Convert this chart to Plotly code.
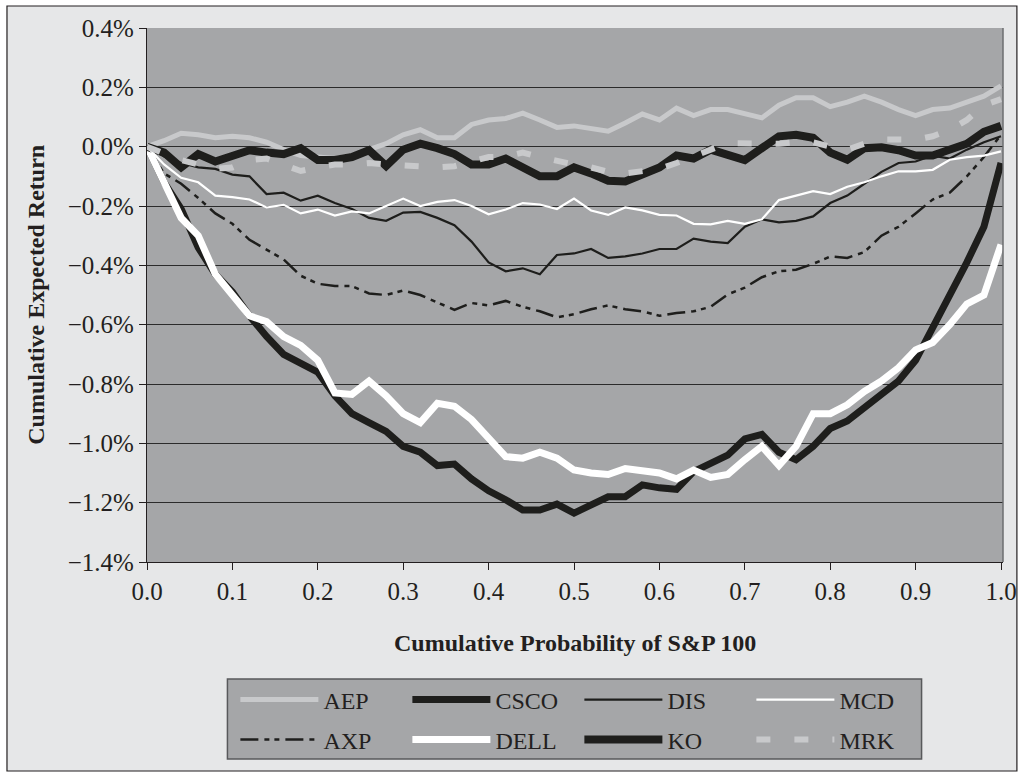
import plotly.graph_objects as go

# Cumulative probability of the S&P 100 (x) and cumulative expected return in % (y)
prob = [round(i * 0.02, 2) for i in range(51)]

aep = [0, 0.02, 0.045, 0.04, 0.03, 0.035, 0.03, 0.015, -0.01, -0.03,
       -0.035, -0.04, -0.03, -0.01, 0.01, 0.04, 0.057, 0.03, 0.03, 0.075,
       0.09, 0.095, 0.113, 0.09, 0.065, 0.07, 0.06, 0.052, 0.08, 0.11,
       0.09, 0.13, 0.105, 0.125, 0.125, 0.11, 0.097, 0.14, 0.165, 0.165,
       0.135, 0.15, 0.17, 0.15, 0.125, 0.105, 0.125, 0.13, 0.15, 0.17, 0.205]

axp = [0, -0.09, -0.125, -0.173, -0.225, -0.26, -0.314, -0.348, -0.38, -0.435,
       -0.462, -0.47, -0.47, -0.495, -0.5, -0.485, -0.5, -0.525, -0.55, -0.527,
       -0.535, -0.52, -0.54, -0.555, -0.575, -0.565, -0.548, -0.535, -0.548, -0.555,
       -0.57, -0.561, -0.555, -0.54, -0.498, -0.475, -0.44, -0.42, -0.415, -0.395,
       -0.37, -0.375, -0.355, -0.3, -0.27, -0.225, -0.178, -0.155, -0.1, -0.035, 0.04]

csco = [0, -0.12, -0.21, -0.34, -0.43, -0.49, -0.57, -0.64, -0.7, -0.73,
        -0.76, -0.84, -0.9, -0.93, -0.96, -1.01, -1.03, -1.075, -1.07, -1.12,
        -1.16, -1.19, -1.225, -1.225, -1.205, -1.235, -1.21, -1.18, -1.18, -1.14,
        -1.15, -1.155, -1.095, -1.067, -1.04, -0.985, -0.97, -1.03, -1.055, -1.01,
        -0.95, -0.925, -0.88, -0.83, -0.79, -0.72, -0.61, -0.51, -0.39, -0.27, -0.055]

dell = [0, -0.125, -0.24, -0.3, -0.43, -0.5, -0.57, -0.59, -0.64, -0.67,
        -0.72, -0.83, -0.835, -0.79, -0.84, -0.9, -0.93, -0.865, -0.875, -0.92,
        -0.98, -1.045, -1.05, -1.03, -1.05, -1.09, -1.1, -1.105, -1.085, -1.09,
        -1.1, -1.12, -1.09, -1.115, -1.105, -1.055, -1.01, -1.075, -1.01, -0.9,
        -0.9, -0.87, -0.825, -0.79, -0.745, -0.685, -0.66, -0.6, -0.53, -0.5, -0.33]

dis = [0, -0.033, -0.055, -0.07, -0.075, -0.094, -0.1, -0.16, -0.155, -0.182,
       -0.165, -0.19, -0.21, -0.24, -0.25, -0.222, -0.22, -0.24, -0.265, -0.32,
       -0.39, -0.42, -0.41, -0.43, -0.365, -0.36, -0.345, -0.375, -0.37, -0.36,
       -0.345, -0.345, -0.31, -0.32, -0.325, -0.27, -0.245, -0.255, -0.25, -0.235,
       -0.19, -0.165, -0.125, -0.085, -0.055, -0.05, -0.03, -0.04, -0.01, 0.015, 0.035]

ko = [0, -0.02, -0.07, -0.025, -0.05, -0.03, -0.012, -0.02, -0.025, -0.005,
      -0.045, -0.045, -0.035, -0.012, -0.065, -0.01, 0.01, -0.005, -0.025, -0.06,
      -0.06, -0.04, -0.068, -0.1, -0.1, -0.07, -0.09, -0.115, -0.117, -0.095,
      -0.07, -0.03, -0.04, -0.01, -0.03, -0.045, -0.005, 0.035, 0.04, 0.03,
      -0.02, -0.044, -0.005, -0.002, -0.012, -0.03, -0.03, -0.01, 0.01, 0.05, 0.07]

mcd = [0, -0.06, -0.105, -0.12, -0.165, -0.17, -0.178, -0.205, -0.196, -0.225,
       -0.212, -0.232, -0.218, -0.225, -0.2, -0.175, -0.2, -0.186, -0.18, -0.2,
       -0.228, -0.212, -0.19, -0.195, -0.21, -0.175, -0.215, -0.23, -0.205, -0.215,
       -0.23, -0.232, -0.26, -0.262, -0.25, -0.26, -0.245, -0.18, -0.165, -0.15,
       -0.16, -0.135, -0.12, -0.1, -0.083, -0.083, -0.078, -0.044, -0.035, -0.03, -0.016]

mrk = [0, -0.025, -0.045, -0.06, -0.075, -0.07, -0.045, -0.04, -0.06, -0.082,
       -0.07, -0.06, -0.06, -0.055, -0.06, -0.065, -0.066, -0.07, -0.066, -0.05,
       -0.035, -0.033, -0.02, -0.035, -0.05, -0.06, -0.07, -0.085, -0.09, -0.08,
       -0.075, -0.055, -0.035, -0.01, 0.012, 0.01, 0.007, 0.01, 0.015, 0.015,
       0, -0.01, 0.01, 0.024, 0.024, 0.024, 0.035, 0.057, 0.09, 0.14, 0.16]

x_ticks = [0.0, 0.1, 0.2, 0.3, 0.4, 0.5, 0.6, 0.7, 0.8, 0.9, 1.0]
y_ticks = [0.4, 0.2, 0.0, -0.2, -0.4, -0.6, -0.8, -1.0, -1.2, -1.4]

W, H = 1029, 777
ML, MR, MT, MB = 147, 20, 28, 215
PW, PH = W - ML - MR, H - MT - MB

def px2x(px):
    return (px - ML) / PW

def py2y(py):
    return (H - MB - py) / PH

LIGHT = "#c8c9cb"
DARK = "#1e1e1c"
WHITE = "#ffffff"
PLOT_BG = "#a5a6a8"
PAGE_BG = "#e6e7e8"
INK = "#231f20"
SERIF = "Liberation Serif, Times New Roman, serif"

series = [
    ("AEP", aep, dict(color=LIGHT, width=5), "legend"),
    ("AXP", axp, dict(color=DARK, width=2.5, dash="18px,6px,5px,5px,5px,6px"), "legend2"),
    ("CSCO", csco, dict(color=DARK, width=7), "legend"),
    ("DELL", dell, dict(color=WHITE, width=7), "legend2"),
    ("DIS", dis, dict(color=DARK, width=2.2), "legend"),
    ("KO", ko, dict(color=DARK, width=8), "legend2"),
    ("MCD", mcd, dict(color=WHITE, width=2.2), "legend"),
    ("MRK", mrk, dict(color=LIGHT, width=6, dash="14px,24px"), "legend2"),
]

fig = go.Figure()
for name, vals, line, leg in series:
    fig.add_trace(go.Scatter(x=prob, y=vals, mode="lines", name=name,
                             line=dict(shape="linear", **line), legend=leg,
                             hoverinfo="skip"))

legend_common = dict(
    orientation="h", xanchor="left", yanchor="middle",
    x=px2x(236), bgcolor="rgba(0,0,0,0)", borderwidth=0,
    itemwidth=78, entrywidth=79, font=dict(family=SERIF, size=24, color=INK),
    itemclick=False, itemdoubleclick=False,
)

shapes = [
    # outer frame of the figure
    dict(type="rect", xref="paper", yref="paper", layer="below",
         x0=px2x(6), x1=px2x(1023), y0=py2y(771), y1=py2y(6),
         fillcolor=PAGE_BG, line=dict(color=INK, width=1.2)),
    # plot area
    dict(type="rect", xref="paper", yref="paper", layer="below",
         x0=0, x1=1, y0=0, y1=1, fillcolor=PLOT_BG, line=dict(width=0)),
    dict(type="line", xref="paper", yref="paper", layer="above",
         x0=1, x1=1, y0=0, y1=1, line=dict(color="#6d6e70", width=1.5)),
    # legend box
    dict(type="rect", xref="paper", yref="paper", layer="below",
         x0=px2x(228), x1=px2x(927), y0=py2y(759), y1=py2y(679),
         fillcolor=PLOT_BG, line=dict(color="#58595b", width=1.5)),
]

fig.update_layout(
    width=W, height=H,
    margin=dict(l=ML, r=MR, t=MT, b=MB, pad=0),
    paper_bgcolor="white", plot_bgcolor=PLOT_BG,
    font=dict(family=SERIF, size=24, color=INK),
    showlegend=True,
    legend=dict(y=py2y(700), **legend_common),
    legend2=dict(y=py2y(740), **legend_common),
    shapes=shapes,
    annotations=[
        dict(text="<b>Cumulative Probability of S&P 100</b>", xref="paper", yref="paper",
             x=px2x(578), y=py2y(643), xanchor="center", yanchor="middle",
             showarrow=False, font=dict(family=SERIF, size=24, color=INK)),
        dict(text="<b>Cumulative Expected Return</b>", xref="paper", yref="paper",
             x=px2x(35), y=py2y(295), xanchor="center", yanchor="middle", textangle=-90,
             showarrow=False, font=dict(family=SERIF, size=24, color=INK)),
    ],
)

fig.update_xaxes(
    range=[0, PW / 860], tickvals=x_ticks, ticktext=[f"{v:.1f}" for v in x_ticks],
    showgrid=False, zeroline=False, showline=True, linecolor=INK, linewidth=1.2,
    ticks="outside", ticklen=7, tickcolor=INK, tickwidth=1.2,
    tickfont=dict(family=SERIF, size=25, color=INK),
)
fig.update_yaxes(
    range=[-1.4, 0.4], tickvals=y_ticks,
    ticktext=[("\u2212" if v < 0 else "") + f"{abs(v):.1f}%" for v in y_ticks],
    showgrid=True, gridcolor="#2b2b2b", gridwidth=1.2, zeroline=False,
    showline=True, linecolor=INK, linewidth=1.2,
    ticks="outside", ticklen=7, tickcolor=INK, tickwidth=1.2,
    tickfont=dict(family=SERIF, size=25, color=INK),
)

fig.write_html("out.html")
